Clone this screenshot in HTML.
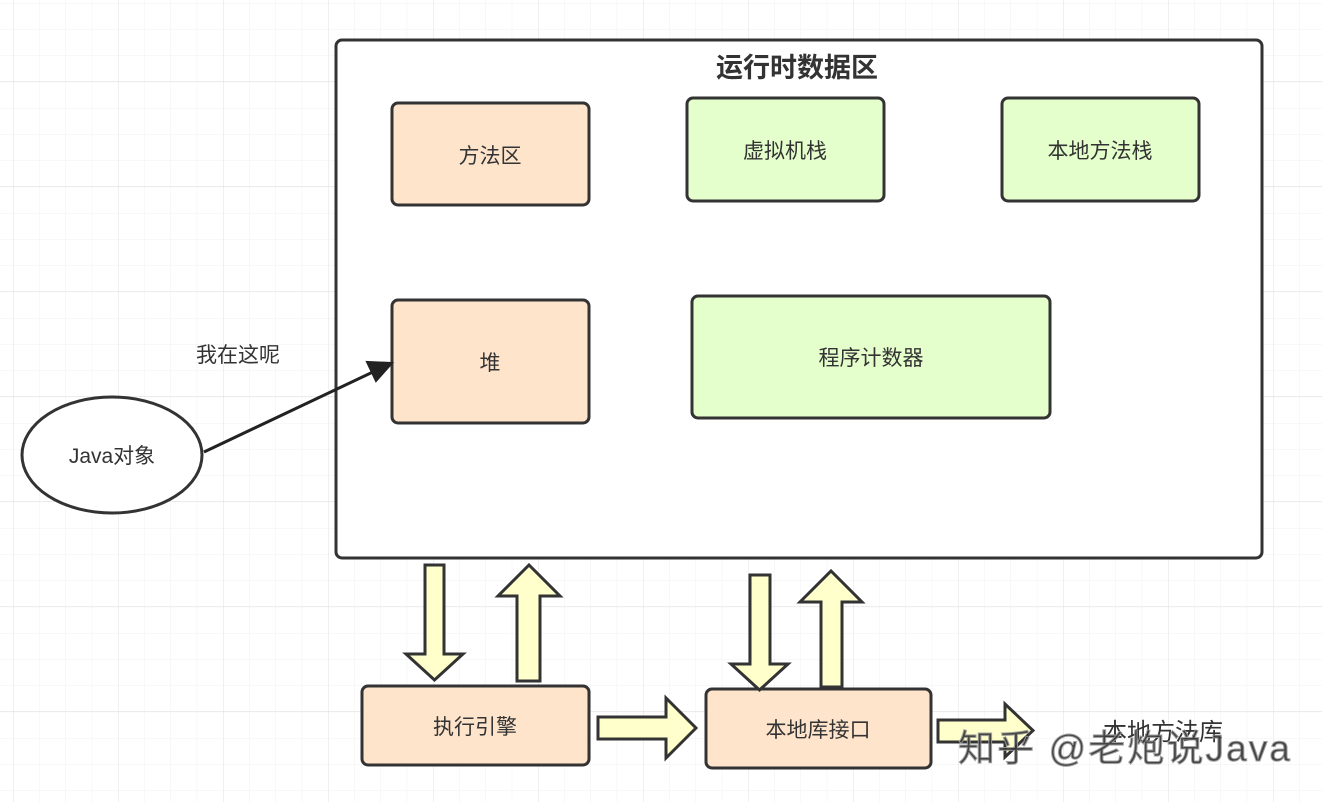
<!DOCTYPE html>
<html><head><meta charset="utf-8"><style>
html,body{margin:0;padding:0;background:#fff;width:1322px;height:802px;overflow:hidden}
svg text{font-family:"Liberation Sans","Noto Sans CJK SC",sans-serif;fill:#333}
</style></head><body>
<svg width="1322" height="802" viewBox="0 0 1322 802" xmlns="http://www.w3.org/2000/svg">
<defs>
<pattern id="minor" x="13" y="3" width="26.25" height="26.25" patternUnits="userSpaceOnUse">
<path d="M0 0V26.25M0 0H26.25" stroke="#f0f0f0" stroke-width="1" fill="none"/>
</pattern>
<pattern id="major" x="13" y="81" width="105" height="105" patternUnits="userSpaceOnUse">
<path d="M0 0V105M0 0H105" stroke="#e2e2e2" stroke-width="1" fill="none"/>
</pattern>
</defs>
<rect width="1322" height="802" fill="url(#minor)"/>
<rect width="1322" height="802" fill="url(#major)"/>

<g stroke="#333" stroke-width="3">
<rect x="336" y="40" width="926" height="518" rx="6" fill="#fff"/>
<rect x="392" y="103" width="197" height="102" rx="6" fill="#ffe4cc"/>
<rect x="687" y="98" width="197" height="103" rx="6" fill="#e4ffcc"/>
<rect x="1002" y="98" width="197" height="103" rx="6" fill="#e4ffcc"/>
<rect x="392" y="300" width="197" height="123" rx="6" fill="#ffe4cc"/>
<rect x="692" y="296" width="358" height="122" rx="6" fill="#e4ffcc"/>
<ellipse cx="112" cy="455" rx="90" ry="58" fill="#fff"/>
<rect x="362" y="686" width="227" height="79" rx="6" fill="#ffe4cc"/>
<rect x="706" y="689" width="225" height="79" rx="6" fill="#ffe4cc"/>
<g fill="#ffffcc">
<polygon points="425,565 444,565 444,654 463,654 434.5,680 406,654 425,654"/>
<polygon points="517,681 540,681 540,596 560,596 529,565 498,596 517,596"/>
<polygon points="750,575 770,575 770,664 788,664 759.5,690 731,664 750,664"/>
<polygon points="821,687 842,687 842,602 862,602 831,571 800,602 821,602"/>
<polygon points="598,717 666,717 666,698 696,728 666,758 666,739 598,739"/>
<polygon points="938,720 1005,720 1005,704 1033,730.5 1005,757 1005,742 938,742"/>
</g>
</g>
<line x1="204" y1="452" x2="375" y2="371" stroke="#222" stroke-width="3"/>
<polygon points="392,363 367,362 376,381" fill="#222" stroke="#222" stroke-width="2"/>

<text x="797" y="77" font-size="27" font-weight="bold" text-anchor="middle" fill="#222">运行时数据区</text>
<g font-size="21" text-anchor="middle">
<text x="490" y="163">方法区</text>
<text x="785" y="158">虚拟机栈</text>
<text x="1100" y="158">本地方法栈</text>
<text x="490" y="370">堆</text>
<text x="871" y="365">程序计数器</text>
<text x="112" y="463">Java对象</text>
<text x="238" y="362">我在这呢</text>
<text x="475" y="734">执行引擎</text>
<text x="818" y="737">本地库接口</text>
</g>
<text x="1163" y="740" font-size="24" text-anchor="middle" fill="#222">本地方法库</text>
<text x="958" y="761" font-size="37" fill="#fff" stroke="#999" stroke-width="1" opacity="0.9" textLength="332" lengthAdjust="spacing">知乎 @老炮说Java</text>
</svg>
</body></html>
